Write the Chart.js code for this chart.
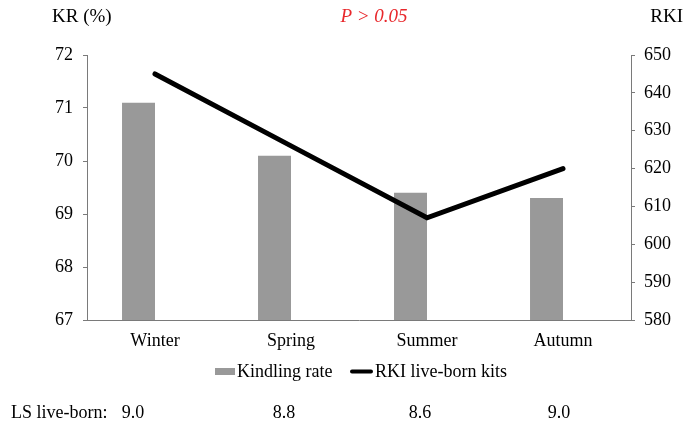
<!DOCTYPE html>
<html>
<head>
<meta charset="utf-8">
<script src="https://cdn.jsdelivr.net/npm/chart.js@4/dist/chart.umd.min.js"></script>
<style>
  html, body { margin: 0; padding: 0; background: #fff; }
  #wrap { width: 689px; height: 435px; }
</style>
</head>
<body>
<div id="wrap"><canvas id="grafico"></canvas></div>
<script>
// datos
const estaciones = ["Winter", "Spring", "Summer", "Autumn"];
const kindlingRate = [71.1, 70.1, 69.4, 69.3];
const rkiKits = [645, 626, 607, 620];
const lsLiveBorn = ["9.0", "8.8", "8.6", "9.0"];
const ticksKR = [67, 68, 69, 70, 71, 72];
const ticksRKI = [580, 590, 600, 610, 620, 630, 640, 650];

const fuente = "'Liberation Serif', 'Times New Roman', serif";
const gris = "#999999";
const ejeColor = "#7a7a7a";

// dibuja titulos de ejes, leyenda y fila de LS
const extras = {
  id: "extras",
  afterDraw(chart) {
    const ctx = chart.ctx;
    const x = chart.scales.x;
    ctx.save();
    ctx.fillStyle = "#000";
    ctx.textBaseline = "middle";
    ctx.font = `19px ${fuente}`;
    ctx.textAlign = "left";
    ctx.fillText("KR (%)", 52, 17);
    ctx.textAlign = "right";
    ctx.fillText("RKI", 683, 17);
    ctx.textAlign = "center";
    ctx.fillStyle = "#e8272b";
    ctx.font = `italic 19px ${fuente}`;
    ctx.fillText("P > 0.05", 374, 17);

    // leyenda
    const barra = chart.data.datasets[1];
    const linea = chart.data.datasets[0];
    ctx.font = `18px ${fuente}`;
    ctx.fillStyle = barra.backgroundColor;
    ctx.fillRect(215, 368, 20, 7);
    ctx.fillStyle = "#000";
    ctx.textAlign = "left";
    ctx.fillText(barra.label, 237, 372);
    ctx.strokeStyle = linea.borderColor;
    ctx.lineWidth = 4;
    ctx.lineCap = "round";
    ctx.beginPath();
    ctx.moveTo(352, 371.5);
    ctx.lineTo(371, 371.5);
    ctx.stroke();
    ctx.fillText(linea.label, 375, 372);

    // LS live-born
    ctx.fillText("LS live-born:", 11, 413);
    ctx.textAlign = "center";
    const ajuste = [-22, -7, -7, -4];
    lsLiveBorn.forEach((v, i) => {
      ctx.fillText(v, x.getPixelForValue(i) + ajuste[i], 413);
    });
    ctx.restore();
  }
};

new Chart(document.getElementById("grafico"), {
  data: {
    labels: estaciones,
    datasets: [
      {
        type: "line",
        label: "RKI live-born kits",
        data: rkiKits,
        yAxisID: "y1",
        borderColor: "#000",
        borderWidth: 5,
        borderCapStyle: "round",
        borderJoinStyle: "miter",
        pointRadius: 0,
        tension: 0,
        order: 0
      },
      {
        type: "bar",
        label: "Kindling rate",
        data: kindlingRate,
        yAxisID: "y",
        backgroundColor: gris,
        categoryPercentage: 0.485,
        barPercentage: 1,
        order: 1
      },
      {
        // serie vacia para dejar la barra a la izquierda de la categoria
        type: "bar",
        label: "",
        data: estaciones.map(() => null),
        yAxisID: "y",
        categoryPercentage: 0.485,
        barPercentage: 1,
        order: 2
      }
    ]
  },
  options: {
    responsive: true,
    maintainAspectRatio: false,
    animation: false,
    layout: { padding: { top: 55, left: 0, right: 0, bottom: 0 } },
    plugins: {
      legend: { display: false },
      tooltip: { enabled: false }
    },
    scales: {
      x: {
        offset: true,
        grid: { display: false, drawTicks: false },
        border: { display: true, color: ejeColor, width: 1 },
        ticks: { color: "#000", font: { family: fuente, size: 18 }, padding: 10, maxRotation: 0 },
        afterFit: s => { s.height = 115; }
      },
      y: {
        position: "left",
        min: 67,
        max: 72,
        afterBuildTicks: s => { s.ticks = ticksKR.map(v => ({ value: v })); },
        grid: { drawOnChartArea: false, drawTicks: true, tickLength: 4, color: ejeColor },
        border: { display: true, color: ejeColor, width: 1 },
        ticks: { color: "#000", font: { family: fuente, size: 18 }, padding: 10 },
        afterFit: s => { s.width = 87; }
      },
      y1: {
        position: "right",
        min: 580,
        max: 650,
        afterBuildTicks: s => { s.ticks = ticksRKI.map(v => ({ value: v })); },
        grid: { drawOnChartArea: false, drawTicks: true, tickLength: 4, color: ejeColor },
        border: { display: true, color: ejeColor, width: 1 },
        ticks: { color: "#000", font: { family: fuente, size: 18 }, padding: 9 },
        afterFit: s => { s.width = 58; }
      }
    }
  },
  plugins: [extras]
});
</script>
</body>
</html>
